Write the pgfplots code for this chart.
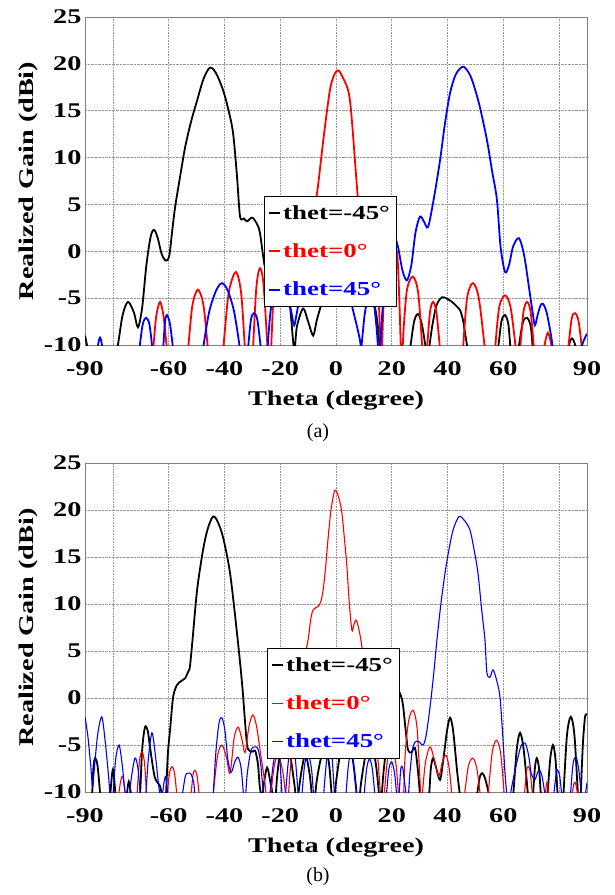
\documentclass[border=0pt]{standalone}
\usepackage{fontspec}
\setmainfont{Liberation Serif}
\newfontfamily\plotfont{Liberation Serif}[FakeStretch=1.35]
\usepackage{pgfplots}
\pgfplotsset{compat=1.18}

\pgfplotsset{
  gainplot/.style={
    width=502bp, scale only axis,
    xmin=-90, xmax=90, ymin=-10, ymax=25,
    xtick={-90,-60,-40,-20,0,20,40,60,90},
    xticklabels={-90,-60,-40,-20,0,20,40,60,90},
    minor xtick={-80,-60,-40,-20,0,20,40,60,80},
    ytick={-10,-5,0,5,10,15,20,25},
    yticklabels={-10,-5,0,5,10,15,20,25},
    xminorgrids, ymajorgrids,
    major tick length=0pt, minor tick length=0pt,
    grid style={densely dotted, gray!80, line width=0.6bp},
    minor grid style={densely dotted, gray!80, line width=0.6bp},
    axis line style={gray, line width=0.8bp},
    tick label style={font=\plotfont\bfseries\fontsize{21}{24}\selectfont},
    xticklabel style={yshift=-13bp},
    xlabel={Theta (degree)},
    ylabel={Realized Gain (dBi)},
    every axis x label/.style={at={(axis description cs:0.5,-0.168)}, anchor=center,
      font=\plotfont\bfseries\fontsize{21}{24}\selectfont},
    every axis y label/.style={at={(axis description cs:-0.1135,0.5)}, rotate=90, anchor=center,
      font=\plotfont\bfseries\fontsize{21}{24}\selectfont},
    legend style={anchor=north west, draw=black, line width=0.8bp, fill=white,
      font=\plotfont\bfseries\fontsize{20}{22}\selectfont,
      inner xsep=4bp, inner ysep=7bp, row sep=19bp,
      nodes={inner sep=2bp}},
    legend cell align=left,
    legend image code/.code={\draw[#1] (0bp,0bp) -- (11bp,0bp);},
  }
}

\begin{document}
\begin{tikzpicture}
\path[use as bounding box] (0,0) rectangle (615bp,-895bp);

% ---------------- (a)
\begin{axis}[gainplot, height=328bp, at={(85bp,-345bp)}, anchor=south west,
  legend style={at={(0.3566,0.4543)}}]
\addplot[black, line width=1.8bp, smooth, tension=0.5] coordinates {
(-90,-9.0) (-89,-10.5) (-88,-13) (-80,-13) (-78.2,-10) (-76.5,-6.8) (-74.6,-5.4)
(-72.5,-6.5) (-71,-8.1) (-69.5,-6) (-68,-1.5) (-66.5,1.5) (-65.3,2.3) (-64,1.5)
(-62.5,-0.3) (-61,-1.0) (-59.8,-0.5) (-58.8,2) (-57.7,4.7) (-56,7.8) (-54.1,11.1)
(-52,13.8) (-49.8,16.1) (-47.5,18.4) (-45.2,19.6) (-43,19.0) (-40.5,17.2) (-38.5,15)
(-36.9,12.6) (-35.5,8) (-34.4,3.7) (-33,3.5) (-31.9,3.2) (-30.1,3.6) (-28.5,3.0)
(-27.3,2.0) (-25.5,-1.7) (-23,-4.5) (-20.5,-5) (-18,-4.5) (-16.5,-5.9) (-15,-10.5)
(-14,-8) (-11.8,-6.1) (-10,-7.5) (-8.2,-9.0) (-7,-7.5) (-5.7,-6.1) (-3,-3.5) (0,-2.5)
(3,-3) (6,-4) (9,-3.5) (12,-4) (14,-6) (15,-8) (16,-11) (18,-13) (25,-13) (26.5,-10.5)
(28,-7.5) (29.4,-6.7) (30.8,-7.8) (32.3,-10.5) (33,-11) (34.5,-8) (36,-5.8) (38,-4.9)
(40,-5.1) (41.6,-5.4) (43,-5.8) (44.5,-6.3) (45.5,-7.3) (46.2,-8.6) (47.2,-10.5)
(48,-13) (56,-13) (58,-10.5) (59.3,-7.5) (60.6,-6.8) (61.8,-7.8) (62.6,-10.5) (63.5,-13)
(64.5,-13) (65.4,-10.5) (67,-7.6) (68.5,-7.1) (69.8,-8) (70.6,-10.5) (71.5,-13)
(82,-13) (83.3,-10.3) (84.6,-9.3) (86,-10.3) (87,-13) (90,-13)
};
\addlegendentry{thet=-45°}
\addplot[red, line width=1.8bp, smooth, tension=0.5] coordinates {
(-90,-13) (-67,-13) (-65.6,-10.5) (-64.5,-7) (-63.1,-5.4) (-61.8,-7) (-60.6,-10.5)
(-59.5,-13) (-54.5,-13) (-53.1,-10.5) (-51.5,-5.8) (-49.5,-4.1) (-47.5,-5.8)
(-45.9,-10.5) (-45,-13) (-42,-13) (-40.5,-10.5) (-38.5,-4.5) (-35.9,-2.2) (-34,-4.5)
(-32.6,-10.5) (-31.5,-13) (-30.5,-12) (-29.8,-10.5) (-28.6,-4) (-27.3,-1.8) (-26,-3.5)
(-24.5,-10.5) (-24,-12) (-23.3,-10.5) (-22.5,-5.5) (-21,-2) (-18,1) (-15,0) (-12,0)
(-9,2.5) (-6.8,6.2) (-4.5,12) (-2,17.5) (0.4,19.3) (2.5,18.5) (5,16.1) (7.5,6.9)
(9,1.5) (11,-1) (13,0) (14.2,-0.5) (15,-3) (15.7,-8) (16.3,-11.5) (17,-6) (18,-2)
(20,0) (21.9,-0.2) (22.8,-6) (23.5,-12) (24.3,-8) (25.5,-4) (27.6,-2.7) (29.5,-4.5)
(31,-10.5) (31.8,-13) (32.6,-10.5) (33.7,-6.5) (34.8,-5.4) (36,-6.5) (37.3,-10.5)
(38,-13) (44.8,-13) (45.5,-10.5) (47,-5) (49.1,-3.4) (51.2,-5) (53.4,-10.5) (54,-13)
(56.3,-13) (57,-10.5) (58.5,-6) (60.6,-4.7) (62.6,-6) (64.5,-10.5) (65.2,-13)
(66,-10.5) (67.2,-6.5) (68.5,-5.4) (69.8,-6.5) (71,-10.5) (71.5,-13) (74.2,-12)
(74.8,-10) (76,-8.7) (77.2,-10) (77.8,-12) (82.5,-12) (83.2,-10.5) (84.5,-7.2)
(85.7,-6.6) (87,-7.5) (88.2,-10.5) (89,-13) (90,-13)
};
\addlegendentry{\textcolor{red}{thet=0°}}
\addplot[blue, line width=1.8bp, smooth, tension=0.5] coordinates {
(-90,-13) (-86,-12) (-85.3,-10) (-84.6,-9.2) (-83.9,-10) (-83,-12) (-71,-13)
(-70.5,-10.5) (-69.3,-7.8) (-68.1,-7.1) (-66.9,-7.8) (-65.8,-10.5) (-65,-13)
(-62.5,-12) (-62,-10.5) (-61.3,-7.5) (-60.6,-6.8) (-59.5,-7.8) (-58.4,-10.5)
(-57.5,-13) (-48.5,-13) (-47.7,-10.5) (-45.5,-6.5) (-43,-4.2) (-40.9,-3.4) (-38.8,-4.2)
(-36.5,-6.5) (-34.4,-10.5) (-33.5,-13) (-32.3,-12) (-31.6,-10.5) (-30.5,-7.3)
(-29.4,-6.6) (-28.2,-7.3) (-26.9,-10.5) (-26,-13) (-25.3,-12) (-24.6,-10.5) (-23.5,-6.5)
(-21.5,-3) (-19.5,-2.5) (-17.5,-4.5) (-16,-6.5) (-15,-7.9) (-14,-6.5) (-12.5,-4.5)
(-8,-2.5) (-3,-1.5) (2,-3) (5,-5) (6.1,-6.3) (7.5,-8) (8.6,-9.5) (9,-10.5) (9.5,-9)
(10.4,-6.5) (12,-4.5) (13.5,-5.5) (14.5,-8) (15.2,-10.5) (15.8,-10) (16.5,-7)
(17.5,-3) (19,0.5) (20.4,2.0) (22.2,0.5) (23.8,-2) (25.4,-3.1) (27,-1.5) (28.5,2)
(30.1,3.7) (31.5,3.2) (33,2.6) (35,5.5) (37.3,9.7) (39,13.5) (40.9,16.9) (43,18.9)
(45.5,19.7) (47.5,19.1) (49.1,18) (51.5,15.5) (54.1,11.9) (56,8.5) (57.7,5.5) (59,0.5)
(60.6,-2.2) (62,-1.5) (63.5,0.5) (65.6,1.4) (67.5,-0.5) (69.5,-4.5) (70.5,-6.5)
(71.3,-7.9) (72.3,-6.8) (73.3,-5.8) (74.2,-5.6) (75.5,-6.5) (77,-8.8) (77.8,-10.5)
(78.5,-13) (86.5,-13) (87.8,-10.5) (89,-9.4) (90,-8.8)
};
\addlegendentry{\textcolor{blue}{thet=45°}}
\end{axis}

% ---------------- (b)
\begin{axis}[gainplot, height=329bp, at={(85bp,-792bp)}, anchor=south west,
  legend style={at={(0.3625,0.4377)}}]
\addplot[black, line width=1.8bp, smooth, tension=0.5] coordinates {
(-90,-13) (-88.2,-12) (-87.5,-10.5) (-87,-7.5) (-86.4,-6.4) (-85.5,-7.2) (-84.5,-10.5)
(-84,-13) (-81.5,-12) (-81,-10.5) (-80,-7.6) (-79,-10.5) (-78.5,-12) (-75.5,-12)
(-75,-10.3) (-74.3,-8.9) (-73.5,-10.3) (-73,-12) (-71,-12) (-70.3,-10.5) (-69.5,-5.5)
(-68.5,-3.1) (-67.5,-3.5) (-66.7,-5.2) (-65,-8.4) (-63.2,-9.3) (-62.2,-10.5) (-61.5,-11)
(-61,-10.5) (-60.3,-6) (-59.5,-3.4) (-58.4,0.1) (-57,1.4) (-55.5,1.8) (-54.1,2.1)
(-53,2.8) (-52.4,3.3) (-51.5,6) (-49.8,11.5) (-47.7,15.7) (-46,18) (-44.1,19.3)
(-42.5,18.8) (-40.5,17.1) (-38,13.3) (-35.5,6.9) (-33.7,1.6) (-32,-4.7) (-31,-5.6)
(-29.8,-5.7) (-29,-5.6) (-28,-7) (-27.3,-9.5) (-26.5,-10.5) (-25.8,-9) (-24.7,-7.4)
(-23.5,-9) (-22.6,-10.5) (-22,-12) (-21,-8) (-19,-4) (-17,-5) (-15,-9) (-14,-11)
(-12.5,-8) (-11,-6) (-9.5,-8) (-8.6,-10.5) (-8,-12) (-7,-9) (-5.5,-6.5) (-4,-5)
(-2.5,-7) (-1.5,-10.5) (-1,-12) (0,-9) (2,-5) (4,-4) (6,-6.5) (7.5,-10.5) (8,-12)
(9,-9) (11,-5.5) (13,-5) (14.5,-7.5) (15.5,-10.5) (16,-12) (17,-8) (19,-3) (21.5,0.8)
(23.7,-0.2) (25,-3.5) (25.8,-5.5) (27,-5.8) (28.3,-5.3) (29.3,-7.5) (30.2,-10.5)
(31,-12) (32,-12) (33.3,-10.5) (34,-7.5) (34.8,-6.4) (35.8,-7.3) (37.3,-8.7) (38.5,-6.5)
(39.8,-3.5) (40.9,-2.1) (42,-3.5) (43.5,-8) (44.5,-10.5) (45,-12) (50,-12) (50.5,-10.5)
(51.5,-8.5) (52.4,-8) (53.5,-8.6) (55,-10.5) (55.5,-12) (63,-12) (63.5,-10.5)
(64.8,-5.5) (66,-3.7) (67.3,-5.5) (68.9,-10.5) (69.5,-12) (70.2,-12) (70.6,-10.5)
(71.3,-7.5) (72,-6.4) (72.8,-7.5) (73.5,-10.5) (74,-12) (75.3,-12) (75.8,-10.5)
(76.8,-6.5) (77.8,-5.0) (78.7,-6.5) (79.5,-10.5) (80,-12) (81,-12) (81.5,-10.5)
(82.8,-4) (84.2,-2.0) (85.5,-4) (86.8,-10.5) (87.3,-12) (87.7,-10.5) (88.5,-5)
(89.3,-2.0) (90,-1.8)
};
\addlegendentry{thet=-45°}
\addplot[red, line width=1.1bp, smooth, tension=0.5] coordinates {
(-90,-13) (-79,-13) (-78,-10.5) (-77.2,-8.8) (-76.4,-8.4) (-75.5,-10.5) (-75,-12)
(-72,-12) (-71.4,-10.5) (-70.5,-6.8) (-69.6,-5.7) (-68.7,-6.8) (-67.8,-10.5) (-67,-12)
(-61,-12) (-60.6,-10.5) (-59.7,-8) (-58.8,-7.3) (-57.9,-8) (-57,-10.5) (-56.5,-12)
(-52.5,-12) (-52,-10.5) (-51.3,-8.2) (-50.6,-7.7) (-49.8,-8.3) (-49,-10.5) (-48.5,-12)
(-44.6,-12) (-44.1,-10.5) (-42.5,-6.2) (-40.9,-5.0) (-39.3,-6.3) (-38,-8.0)
(-36.5,-4.2) (-35.1,-3.1) (-33.8,-4.3) (-32.6,-5.8) (-31.2,-3) (-29.8,-1.8) (-28.5,-3)
(-27,-6) (-25.5,-9) (-25,-10.5) (-24.2,-12) (-23.5,-10.5) (-22,-7) (-20.5,-6.2)
(-19,-8) (-18,-10.5) (-17.5,-12) (-16.5,-8) (-15,-3) (-13,1) (-11.5,4) (-10,6.2)
(-9,8.5) (-8.2,9.4) (-7.3,9.6) (-6.5,9.7) (-5.5,10.2) (-4.6,11.5) (-3.7,14) (-2.9,16.8)
(-1.8,20) (-0.4,22.1) (1,21.3) (2.1,19.7) (3,17) (3.9,14) (4.8,10) (5.7,7.2) (6.4,7.8)
(7.2,8.3) (8.2,7.3) (9.3,5.4) (10.5,1.5) (12,-2) (13.5,-3.5) (15,-6.5) (16,-10.5)
(16.5,-12) (17.2,-10.5) (18.5,-6.5) (20,-5.5) (21.5,-7) (22.5,-10.5) (23.5,-12)
(24.2,-10.5) (24.8,-6) (26,-2.5) (27.6,-1.3) (29,-3) (30,-8) (30.6,-11) (32,-7)
(33.7,-5.2) (35.2,-6.5) (36.8,-8.3) (38.3,-6.6) (39.5,-6.1) (40.6,-7.5) (41.6,-10.5)
(42.2,-12) (45.5,-12) (46,-10.5) (47.5,-7.2) (49.1,-6.4) (50.5,-7.5) (51.8,-10.5)
(52.4,-12) (54,-12) (54.5,-10.5) (56,-5.8) (57.5,-4.5) (59,-5.8) (60.4,-10.5) (61,-12)
(67,-12) (67.5,-10.5) (68.3,-7.8) (68.9,-7.3) (69.6,-7.8) (70.5,-10.5) (71,-12)
(74.5,-12) (75,-10.5) (75.6,-9.0) (76.3,-10.5) (76.8,-12) (84,-12) (84.5,-10.5)
(85.4,-9) (86,-9.2) (86.8,-10.5) (87.5,-12) (90,-12)
};
\addlegendentry{\textcolor{red}{thet=0°}}
\addplot[blue, line width=1.1bp, smooth, tension=0.5] coordinates {
(-90,-2.0) (-89,-4) (-88,-7) (-87.3,-9.5) (-86.8,-8) (-85.5,-4) (-84,-2.0)
(-82.8,-4.5) (-81.5,-8.5) (-81,-10.5) (-80.5,-12) (-80,-10.5) (-79,-6.5) (-77.8,-5)
(-76.7,-7) (-75.7,-9.8) (-74.5,-12) (-73.6,-9) (-72.1,-6.4) (-71,-7.5) (-70,-10.5)
(-68.5,-11) (-67.3,-6.5) (-66,-3.7) (-64.8,-6) (-63.5,-9.5) (-62.6,-11) (-61.7,-9)
(-61,-8.4) (-60.3,-10.5) (-59.8,-12) (-56,-12) (-55.2,-10.5) (-54,-8.3) (-53,-8)
(-52,-8.1) (-51,-9) (-50.6,-10.5) (-50,-12) (-44.6,-12) (-44.1,-10.5) (-43,-5.5)
(-41.9,-2.6) (-40.9,-2.1) (-39.8,-3.5) (-38.8,-6.5) (-37.6,-7.9) (-36.3,-6.8)
(-35.1,-6.3) (-34,-7.5) (-33.1,-10.5) (-32.6,-11) (-31.8,-8) (-30.5,-5.6) (-29.2,-5.2)
(-28,-5.4) (-27,-7) (-26,-10.5) (-25.5,-12) (-24.5,-12) (-23.8,-10.5) (-22.5,-7)
(-21.4,-5.8) (-20.2,-6.5) (-19.3,-10.5) (-18.8,-12) (-18.2,-10.5) (-17,-6.5) (-15.8,-5)
(-14.6,-6.5) (-13.5,-10.5) (-13,-12) (-12.3,-10.5) (-11.2,-7) (-10,-6) (-8.8,-7.5)
(-8,-10.5) (-7.5,-12) (-5,-12) (-4.5,-10.5) (-3.5,-7) (-2.5,-5) (-1.5,-6) (-0.5,-10.5)
(0,-12) (3,-12) (3.5,-10.5) (4.5,-7) (5.5,-6) (6.5,-7.5) (7.5,-10.5) (8,-12) (9.5,-12)
(10,-10.5) (11,-7.5) (12,-6.5) (13,-7.5) (14,-10.5) (14.5,-12) (17.5,-12) (18,-10.5)
(19,-7.5) (20,-6.8) (21,-8) (21.8,-10.5) (22.2,-12) (22.6,-10.5) (23.2,-7.6)
(23.9,-7.4) (24.6,-9) (25.3,-10.5) (25.8,-11) (26.5,-8) (27.4,-5.5) (28.3,-4.7)
(29.5,-4.6) (31.2,-5) (32.3,-4) (33.7,-1) (35,2.5) (36.2,6.2) (37.6,10) (39.1,13.3)
(40.5,15.8) (42,17.9) (44.1,19.3) (46,18.9) (48,17.9) (49.5,15.8) (50.9,13.3)
(52.2,9.5) (53.4,6.2) (54.1,2.7) (55.2,2.2) (56.3,3.0) (57.5,2.0) (58.8,0.1)
(59.9,-4.5) (60.6,-8) (61.3,-10.5) (61.8,-12) (62.4,-10.5) (63.5,-8.7) (65.5,-6)
(66.5,-5) (67.8,-4.8) (69,-6) (70,-8) (71.3,-8.7) (72.3,-7.9) (73.1,-7.7) (74,-8.5)
(75,-10.5) (75.5,-12) (77.3,-12) (78,-10.5) (79,-7.9) (79.5,-7.7) (80.2,-8.3)
(81,-10.5) (81.5,-12) (83.5,-12) (84,-10.5) (85,-7) (86,-6.3) (87,-7.5) (88,-10.5)
(88.5,-12) (89.3,-10.5) (90,-9)
};
\addlegendentry{\textcolor{blue}{thet=45°}}
\end{axis}

\node[font=\fontsize{20}{24}\selectfont] at (318bp,-433bp) {(a)};
\node[font=\fontsize{20}{24}\selectfont] at (318bp,-877bp) {(b)};
\end{tikzpicture}
\end{document}
